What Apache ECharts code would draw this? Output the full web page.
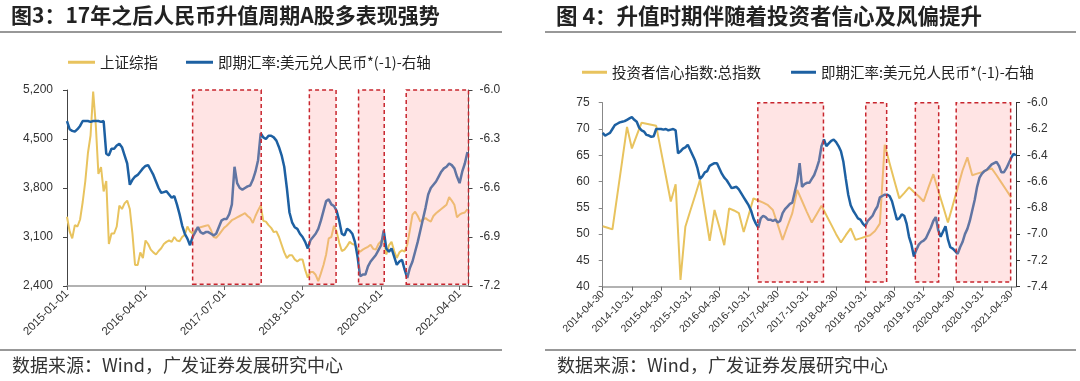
<!DOCTYPE html>
<html><head><meta charset="utf-8">
<script src="https://cdn.jsdelivr.net/npm/echarts@6/dist/echarts.min.js"></script>
<style>html,body{margin:0;padding:0;background:#fff}#c{width:1080px;height:381px}</style>
</head><body><div id="c"></div>
<script>
// ---- Figure 3 (left): half-month steps from 2015-01 ----
const leftTickLabels = ['2015-01-01','2016-04-01','2017-07-01','2018-10-01','2020-01-01','2021-04-01'];
const sseIndex = [3390,3180,3080,3270,3250,3350,3600,3900,4300,4550,
 5176,4700,4000,4100,3750,3900,3000,3150,3150,3250,
 3550,3500,3580,3620,3500,3150,2700,2700,2880,2800,
 3050,3000,2920,2880,2850,2900,2940,3000,3030,3050,
 3030,3100,3050,3040,3100,3130,3250,3180,3150,3200,
 3220,3240,3250,3260,3270,3200,3100,3090,3130,3180,
 3230,3260,3300,3340,3360,3380,3400,3420,3440,3400,
 3370,3300,3400,3480,3550,3330,3320,3270,3230,3170,
 3180,3100,2990,2880,2800,2840,2840,2780,2750,2780,
 2780,2630,2520,2600,2600,2560,2470,2580,2700,2850,
 3080,3100,3260,3180,3020,2900,2920,2970,3030,3000,
 2990,2930,2890,2920,2940,2960,2990,2930,2920,3000,
 3040,3080,2850,2980,3030,2900,2800,2880,2910,2890,
 2990,3200,3420,3460,3400,3320,3350,3370,3340,3320,
 3400,3440,3470,3500,3530,3560,3670,3620,3560,3380,
 3420,3440,3450,3500];
const fxLeft = [-6.19,-6.24,-6.25,-6.255,-6.24,-6.22,-6.19,-6.19,-6.19,-6.195,
 -6.19,-6.19,-6.19,-6.195,-6.19,-6.39,-6.40,-6.36,-6.36,-6.34,
 -6.33,-6.35,-6.40,-6.45,-6.58,-6.55,-6.53,-6.52,-6.50,-6.48,
 -6.465,-6.46,-6.49,-6.52,-6.56,-6.60,-6.63,-6.625,-6.62,-6.64,
 -6.66,-6.65,-6.70,-6.76,-6.83,-6.88,-6.91,-6.95,-6.90,-6.87,
 -6.84,-6.87,-6.88,-6.87,-6.87,-6.88,-6.89,-6.88,-6.84,-6.80,
 -6.79,-6.79,-6.76,-6.70,-6.47,-6.57,-6.60,-6.61,-6.60,-6.59,
 -6.585,-6.55,-6.50,-6.43,-6.265,-6.29,-6.30,-6.28,-6.28,-6.29,
 -6.31,-6.35,-6.40,-6.47,-6.60,-6.75,-6.81,-6.84,-6.85,-6.88,
 -6.90,-6.93,-6.97,-6.92,-6.90,-6.88,-6.85,-6.80,-6.74,-6.68,
 -6.67,-6.70,-6.71,-6.74,-6.80,-6.88,-6.89,-6.85,-6.86,-6.88,
 -6.93,-7.02,-7.14,-7.13,-7.13,-7.08,-7.05,-7.03,-7.01,-6.98,
 -6.95,-6.86,-6.97,-6.99,-6.97,-7.02,-7.07,-7.05,-7.04,-7.10,
 -7.15,-7.09,-7.05,-6.99,-6.93,-6.86,-6.79,-6.72,-6.64,-6.60,
 -6.58,-6.56,-6.53,-6.50,-6.48,-6.47,-6.45,-6.46,-6.48,-6.53,
 -6.57,-6.50,-6.45,-6.38];
// appreciation periods, months after 2015-01
const leftPeriods = [[24.0,37.1],[46.3,51.4],[55.7,60.6],[64.8,76.7]];

// ---- Figure 4 (right): months from 2014-04 ----
const rightTickLabels = ['2014-04-30','2014-10-31','2015-04-30','2015-10-31','2016-04-30','2016-10-31','2017-04-30','2017-10-31','2018-04-30','2018-10-31','2019-04-30','2019-10-31','2020-04-30','2020-10-31','2021-04-30'];
const confidence = [51.5,51.2,50.9,57.4,63.9,70.4,66.3,68.8,71.2,71.0,
 70.8,70.6,65.8,61.0,56.2,59.5,41.3,51.4,54.4,57.3,
 60.3,54.5,48.7,54.6,51.3,47.9,54.9,54.5,54.0,50.4,
 53.6,56.8,56.4,56.0,55.5,54.6,51.8,48.9,51.5,54.0,
 58.4,56.3,54.2,52.2,53.8,55.4,53.6,51.8,50.0,48.4,
 49.8,51.1,48.9,49.2,49.5,49.8,50.6,52.0,67.0,63.5,
 60.1,56.8,57.8,58.9,58.0,57.2,56.2,58.9,61.4,58.3,
 55.3,52.2,55.5,58.8,62.1,64.6,61.2,61.5,61.8,62.2,
 62.5,61.2,59.8,58.4,57.0];
// half-month steps from 2014-04
const fxRight = [-6.23,-6.25,-6.24,-6.23,-6.20,-6.17,-6.16,-6.15,-6.145,-6.14,
 -6.13,-6.12,-6.11,-6.13,-6.145,-6.19,-6.21,-6.22,-6.245,-6.25,
 -6.26,-6.255,-6.20,-6.20,-6.20,-6.205,-6.20,-6.21,-6.205,-6.20,
 -6.21,-6.385,-6.37,-6.35,-6.34,-6.32,-6.36,-6.40,-6.44,-6.50,
 -6.58,-6.56,-6.53,-6.52,-6.48,-6.47,-6.46,-6.46,-6.50,-6.54,
 -6.57,-6.59,-6.62,-6.65,-6.645,-6.64,-6.66,-6.69,-6.72,-6.75,
 -6.78,-6.82,-6.88,-6.92,-6.95,-6.88,-6.86,-6.87,-6.89,-6.89,
 -6.90,-6.89,-6.91,-6.90,-6.84,-6.81,-6.79,-6.77,-6.76,-6.68,
 -6.60,-6.46,-6.64,-6.62,-6.61,-6.61,-6.58,-6.55,-6.50,-6.44,
 -6.33,-6.28,-6.33,-6.31,-6.29,-6.28,-6.30,-6.33,-6.37,-6.45,
 -6.58,-6.70,-6.78,-6.82,-6.85,-6.88,-6.89,-6.92,-6.94,-6.90,
 -6.88,-6.86,-6.82,-6.79,-6.72,-6.71,-6.70,-6.70,-6.71,-6.75,
 -6.82,-6.89,-6.88,-6.85,-6.86,-6.92,-7.02,-7.08,-7.17,-7.12,
 -7.08,-7.06,-7.05,-7.03,-6.99,-6.95,-6.90,-6.87,-6.97,-7.02,
 -6.98,-6.94,-7.04,-7.10,-7.11,-7.13,-7.15,-7.10,-7.06,-7.00,
 -6.96,-6.90,-6.82,-6.74,-6.64,-6.57,-6.54,-6.52,-6.51,-6.49,
 -6.47,-6.46,-6.45,-6.48,-6.53,-6.53,-6.50,-6.46,-6.42,-6.39,
 -6.40];
const rightPeriods = [[31.9,45.4],[54.1,58.4],[64.3,69.1],[72.7,83.9]];

const nameSSE = '上证综指';
const nameFX = '即期汇率:美元兑人民币*(-1)-右轴';
const nameConf = '投资者信心指数:总指数';

const YELLOW = '#e8c35e', BLUE = '#1d60a2';
const NUM = "'Liberation Sans', Arial, sans-serif";
const CJK = "'Noto Sans CJK SC', sans-serif";

const shadeStyle = {color: 'rgba(255,165,165,0.3)', borderColor: '#c8262e', borderWidth: 1.5, borderType: [4, 3]};
function areas(periods, lo, hi) {
  return periods.map(p => [{xAxis: p[0], yAxis: lo}, {xAxis: p[1], yAxis: hi}]);
}
const half = arr => arr.map((v, i) => [i * 0.5, v]);
const whole = arr => arr.map((v, i) => [i, v]);

function axisY(gi, pos, min, max, interval, fmt, lineColor, margin) {
  return {type: 'value', gridIndex: gi, position: pos, min, max, interval,
    axisLine: {show: true, onZero: false, lineStyle: {color: lineColor, width: 1}},
    axisTick: {show: true, length: 4, lineStyle: {color: lineColor}},
    axisLabel: {fontSize: 12, color: '#333', fontFamily: NUM, margin, formatter: fmt},
    splitLine: {show: false}};
}

const chart = echarts.init(document.getElementById('c'), null, {renderer: 'canvas'});
chart.setOption({
  animation: false,
  textStyle: {fontFamily: NUM},
  title: [
    {text: '图3：17年之后人民币升值周期A股多表现强势', left: 11, top: 5, padding: 0,
     textStyle: {fontSize: 21, fontWeight: 'bold', color: '#222', fontFamily: CJK}},
    {text: '图 4：升值时期伴随着投资者信心及风偏提升', left: 556, top: 5, padding: 0,
     textStyle: {fontSize: 21.5, fontWeight: 'bold', color: '#222', fontFamily: CJK}},
    {text: '数据来源：Wind，广发证券发展研究中心', left: 12, top: 356, padding: 0,
     textStyle: {fontSize: 18, fontWeight: 'normal', color: '#333', fontFamily: CJK}},
    {text: '数据来源：Wind，广发证券发展研究中心', left: 557, top: 356, padding: 0,
     textStyle: {fontSize: 18, fontWeight: 'normal', color: '#333', fontFamily: CJK}}
  ],
  graphic: [
    {type: 'line', shape: {x1: 0, y1: 32, x2: 502, y2: 32}, style: {stroke: '#333', lineWidth: 1.2}},
    {type: 'line', shape: {x1: 545, y1: 32, x2: 1076, y2: 32}, style: {stroke: '#333', lineWidth: 1.2}},
    {type: 'line', shape: {x1: 0, y1: 350, x2: 502, y2: 350}, style: {stroke: '#333', lineWidth: 1.2}},
    {type: 'line', shape: {x1: 545, y1: 350, x2: 1076, y2: 350}, style: {stroke: '#333', lineWidth: 1.2}}
  ],
  legend: [
    {left: 68, top: 55, padding: 0, itemWidth: 27, itemHeight: 3, itemGap: 28, icon: 'rect',
     data: [nameSSE, nameFX], textStyle: {fontSize: 14.5, color: '#222', fontFamily: CJK}},
    {left: 582, top: 65, padding: 0, itemWidth: 25, itemHeight: 3, itemGap: 30, icon: 'rect',
     data: [nameConf, nameFX], textStyle: {fontSize: 14.5, color: '#222', fontFamily: CJK}}
  ],
  grid: [
    {left: 67, top: 90, width: 401.5, height: 196},
    {left: 602.7, top: 102.7, width: 413.3, height: 184}
  ],
  xAxis: [
    {type: 'value', gridIndex: 0, min: 0, max: 76.7, interval: 15,
     axisLine: {onZero: false, lineStyle: {color: '#999', width: 1.5}},
     axisTick: {show: true, length: 4, lineStyle: {color: '#666'}},
     axisLabel: {rotate: 45, fontSize: 11.5, color: '#333', margin: 6, showMaxLabel: false,
       formatter: v => (v % 15 === 0 ? (leftTickLabels[v / 15] || '') : '')},
     splitLine: {show: false}},
    {type: 'value', gridIndex: 1, min: 0, max: 85, interval: 6,
     axisLine: {onZero: false, lineStyle: {color: '#999', width: 1.5}},
     axisTick: {show: true, length: 4, lineStyle: {color: '#666'}},
     axisLabel: {rotate: 45, fontSize: 10.5, color: '#333', margin: 6, showMaxLabel: false,
       formatter: v => (v % 6 === 0 ? (rightTickLabels[v / 6] || '') : '')},
     splitLine: {show: false}}
  ],
  yAxis: [
    axisY(0, 'left', 2400, 5200, 700, v => v.toLocaleString('en-US'), '#444', 14),
    axisY(0, 'right', -7.2, -6.0, 0.3, v => v.toFixed(1), '#444', 11),
    axisY(1, 'left', 40, 75, 5, v => String(v), '#888', 13),
    axisY(1, 'right', -7.4, -6.0, 0.2, v => v.toFixed(1), '#333', 11)
  ],
  series: [
    {name: nameSSE, type: 'line', xAxisIndex: 0, yAxisIndex: 0, data: half(sseIndex),
     symbol: 'none', z: 2, lineStyle: {color: YELLOW, width: 2}, itemStyle: {color: YELLOW}},
    {name: nameFX, type: 'line', xAxisIndex: 0, yAxisIndex: 1, data: half(fxLeft),
     symbol: 'none', z: 3, lineStyle: {color: BLUE, width: 2.5}, itemStyle: {color: BLUE}},
    {name: 'shadeLeft', type: 'line', xAxisIndex: 0, yAxisIndex: 0, data: [], z: 10, clip: false,
     markArea: {silent: true, z: 10, label: {show: false}, itemStyle: shadeStyle,
       data: areas(leftPeriods, 2424, 5267)}},
    {name: nameConf, type: 'line', xAxisIndex: 1, yAxisIndex: 2, data: whole(confidence),
     symbol: 'none', z: 2, lineStyle: {color: YELLOW, width: 2}, itemStyle: {color: YELLOW}},
    {name: nameFX, type: 'line', xAxisIndex: 1, yAxisIndex: 3, data: half(fxRight),
     symbol: 'none', z: 3, lineStyle: {color: BLUE, width: 2.5}, itemStyle: {color: BLUE}},
    {name: 'shadeRight', type: 'line', xAxisIndex: 1, yAxisIndex: 2, data: [], z: 10, clip: false,
     markArea: {silent: true, z: 10, label: {show: false}, itemStyle: shadeStyle,
       data: areas(rightPeriods, 40.9, 75.65)}}
  ]
});
</script>
</body></html>
